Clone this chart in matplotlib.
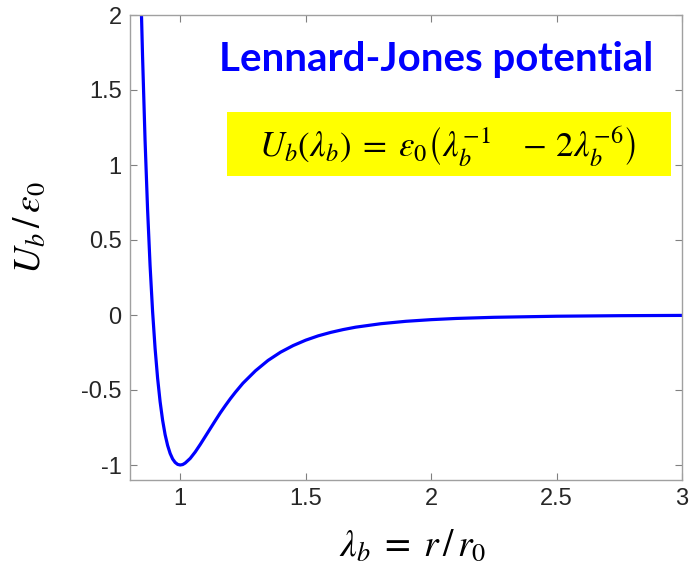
import numpy as np
import matplotlib
matplotlib.use("Agg")
import matplotlib.pyplot as plt
from matplotlib.patches import Rectangle

# Points (lambda_b, U_b/eps_0)
lam = [0.840, 0.845, 0.850, 0.860, 0.870, 0.880, 0.890, 0.900, 0.910, 0.920,
       0.930, 0.940, 0.950, 0.960, 0.970, 0.980, 0.990, 1.000, 1.010, 1.020,
       1.040, 1.060, 1.080, 1.100, 1.120, 1.140, 1.160, 1.180, 1.200, 1.220,
       1.250, 1.300, 1.350, 1.400, 1.450, 1.500, 1.550, 1.600, 1.650, 1.700,
       1.800, 1.900, 2.000, 2.100, 2.250, 2.500, 2.750, 3.000]
u = [2.41, 2.05, 1.727, 1.166, 0.706, 0.330, 0.024, -0.223, -0.421, -0.578,
     -0.702, -0.798, -0.870, -0.923, -0.960, -0.983, -0.996, -1.000, -0.997, -0.987,
     -0.956, -0.913, -0.863, -0.810, -0.757, -0.704, -0.652, -0.604, -0.558, -0.515,
     -0.455, -0.372, -0.303, -0.248, -0.204, -0.168, -0.139, -0.116, -0.097, -0.081,
     -0.058, -0.042, -0.031, -0.023, -0.0154, -0.0082, -0.0046, -0.0027]

xticks = [1, 1.5, 2, 2.5, 3]
xtick_labels = ["1", "1.5", "2", "2.5", "3"]
yticks = [-1, -0.5, 0, 0.5, 1, 1.5, 2]
ytick_labels = ["-1", "-0.5", "0", "0.5", "1", "1.5", "2"]

plt.rcParams['mathtext.fontset'] = 'stix'
plt.rcParams['font.family'] = ['Liberation Sans', 'DejaVu Sans']

fig = plt.figure(figsize=(6.89, 5.75), dpi=100)
ax = fig.add_axes([130/689, 95/575, 552/689, 465/575])

ax.plot(lam, u, color=(0, 0, 1), lw=2.3, solid_joinstyle='round')
ax.set_xlim(0.8, 3)
ax.set_ylim(-1.1, 2)
ax.set_xticks(xticks, xtick_labels)
ax.set_yticks(yticks, ytick_labels)
ax.tick_params(direction='in', length=5, width=0.8, color='#808080',
               labelsize=17, labelcolor='#262626', top=True, right=True, pad=6)
for s in ax.spines.values():
    s.set_color('#a0a0a0')
    s.set_linewidth(1.0)

# title text and yellow formula box
fig.text(436/689, 1 - 60/575, "Lennard-Jones potential", color=(0, 0, 1),
         fontsize=29, fontweight='bold', family='Lato', ha='center', va='center')
fig.patches.append(Rectangle((227/689, 1 - 176/575), 444/689, 64/575,
                             transform=fig.transFigure, facecolor=(1, 1, 0),
                             edgecolor='none', zorder=3))
fig.text(448/689, 1 - 146/575,
         r"$U_b(\lambda_b)\;=\;\varepsilon_0\left(\lambda_b^{-1}\ \ \ -\,2\lambda_b^{-6}\right)$",
         fontsize=25, ha='center', va='center', zorder=4)

fig.text(30/689, 1 - 228/575, r"$U_b\,/\,\varepsilon_0$", fontsize=27,
         rotation=90, ha='center', va='center')
fig.text(413/689, 1 - 546/575, r"$\lambda_b\;=\;r\,/\,r_0$", fontsize=27,
         ha='center', va='center')

fig.savefig("out.png", dpi=100)
